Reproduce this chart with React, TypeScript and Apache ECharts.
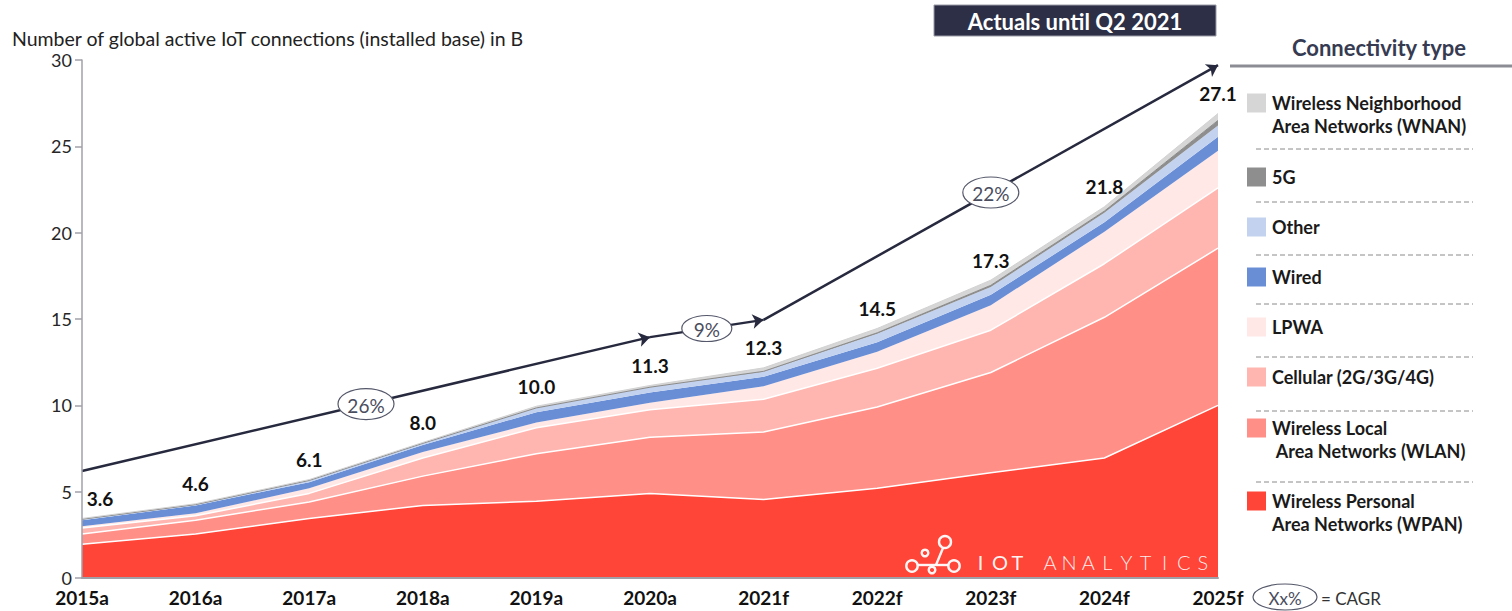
import React, { useEffect, useRef } from 'react';
import * as echarts from 'echarts';

const categories = ['2015a', '2016a', '2017a', '2018a', '2019a', '2020a', '2021f', '2022f', '2023f', '2024f', '2025f'];
const totalLabels = [3.6, 4.6, 6.1, 8.0, 10.0, 11.3, 12.3, 14.5, 17.3, 21.8, 27.1];

const wpan = [1.95, 2.55, 3.45, 4.2, 4.45, 4.9, 4.55, 5.2, 6.1, 6.95, 10.0];
const wlan = [0.6, 0.8, 0.95, 1.7, 2.75, 3.25, 3.9, 4.7, 5.8, 8.15, 9.1];
const cellular = [0.35, 0.25, 0.5, 1.05, 1.5, 1.6, 1.9, 2.25, 2.45, 3.1, 3.5];
const lpwa = [0.1, 0.15, 0.3, 0.35, 0.3, 0.4, 0.75, 0.95, 1.45, 1.85, 2.15];
const wired = [0.35, 0.45, 0.35, 0.4, 0.6, 0.6, 0.55, 0.55, 0.6, 0.55, 0.8];
const other = [0.05, 0.05, 0.1, 0.1, 0.25, 0.3, 0.3, 0.5, 0.45, 0.55, 0.65];
const fiveG = [0, 0, 0, 0, 0, 0, 0.02, 0.05, 0.1, 0.1, 0.3];
const wnan = [0.05, 0.05, 0.05, 0.05, 0.1, 0.1, 0.2, 0.25, 0.3, 0.25, 0.4];

const seriesNames = [
  'Wireless Personal Area Networks (WPAN)',
  'Wireless Local Area Networks (WLAN)',
  'Cellular (2G/3G/4G)',
  'LPWA',
  'Wired',
  'Other',
  '5G',
  'Wireless Neighborhood Area Networks (WNAN)',
];
const seriesColors = ['#ff4538', '#ff8f87', '#ffb6b0', '#ffe8e6', '#6a8ed6', '#c3d3ef', '#8e8e8e', '#d6d6d6'];
const legendLabels = [
  'Wireless Neighborhood\nArea Networks (WNAN)',
  '5G',
  'Other',
  'Wired',
  'LPWA',
  'Cellular (2G/3G/4G)',
  'Wireless Local\n Area Networks (WLAN)',
  'Wireless Personal\nArea Networks (WPAN)',
];

const cagrStartIdx = [0, 5, 6];
const cagrEndIdx = [5, 6, 10];
const cagrStartVal = [6.2, 13.95, 14.95];
const cagrEndVal = [13.95, 14.95, 29.7];
const cagrLabels = ['26%', '9%', '22%'];

const FONT = 'Lato, "Open Sans", "DejaVu Sans", sans-serif';
const DARK = '#272a3e';

export default function App() {
  const ref = useRef<HTMLDivElement>(null);

  useEffect(() => {
    if (!ref.current) return;
    const chart = echarts.init(ref.current, undefined, { renderer: 'svg' });
    const layers = [wpan, wlan, cellular, lpwa, wired, other, fiveG, wnan];
    const lineColors = ['#ffffff', '#ffffff', '#ffffff', '#ffe8e6', '#6a8ed6', '#c3d3ef', '#8a8a8a', '#d2d2d2'];
    const lineWidths = [1.5, 1.5, 1.5, 0, 0, 0, 1, 1];
    const last = layers.length - 1;

    const series: any[] = layers.map((d, i) => ({
      name: seriesNames[i],
      type: 'line',
      stack: 'total',
      data:
        i === last
          ? d.map((v, j) => ({
              value: v,
              label: {
                show: true,
                formatter: totalLabels[j].toFixed(1),
                offset: j === 0 ? [18, 0] : [0, 0],
              },
            }))
          : d,
      showSymbol: i === last,
      symbol: 'circle',
      symbolSize: 1,
      itemStyle: { color: 'rgba(0,0,0,0)' },
      lineStyle: { color: lineColors[i], width: lineWidths[i] },
      areaStyle: { color: seriesColors[i], opacity: 1 },
      label: {
        position: 'top',
        distance: 10,
        fontFamily: FONT,
        fontSize: 19,
        fontWeight: 'bold',
        color: '#111',
      },
      silent: true,
      z: 2,
    }));

    series.push({
      name: 'CAGR',
      type: 'line',
      data: categories.map(() => '-'),
      silent: true,
      z: 5,
      markLine: {
        silent: true,
        symbol: ['none', 'arrow'],
        symbolSize: 11,
        lineStyle: { color: DARK, width: 2.5, type: 'solid' },
        label: { show: false },
        data: cagrStartIdx.map((s, k) => [
          { coord: [categories[s], cagrStartVal[k]] },
          { coord: [categories[cagrEndIdx[k]], cagrEndVal[k]] },
        ]),
      },
    });

    const option: any = {
      animation: false,
      grid: { left: 82, right: 294, top: 60, bottom: 33, containLabel: false },
      xAxis: {
        type: 'category',
        data: categories,
        boundaryGap: false,
        axisLine: { lineStyle: { color: '#a0a0a8', width: 2 } },
        axisTick: { show: false },
        axisLabel: { fontFamily: FONT, fontSize: 19, fontWeight: 'bold', color: '#111', margin: 10 },
        splitLine: { show: false },
        z: 10,
      },
      yAxis: {
        type: 'value',
        min: 0,
        max: 30,
        interval: 5,
        axisLine: { show: true, lineStyle: { color: '#a0a0a8', width: 1.5 } },
        axisTick: { show: true, length: 7, lineStyle: { color: '#a0a0a8', width: 1.5 } },
        axisLabel: { fontFamily: FONT, fontSize: 18, color: '#262626', margin: 10 },
        splitLine: { show: false },
        z: 10,
      },
      series,
    };
    chart.setOption(option);

    const centerText = (text: string, x: number, y: number, extra: any) => ({
      type: 'text',
      style: {
        text,
        x,
        y,
        fontFamily: FONT,
        textAlign: 'center',
        textVerticalAlign: 'middle',
        align: 'center',
        verticalAlign: 'middle',
        ...extra,
      },
    });

    const graphics: any[] = [];
    // y axis title
    graphics.push({
      type: 'text',
      style: {
        text: 'Number of global active IoT connections (installed base) in B',
        x: 12,
        y: 38,
        fill: '#222',
        fontFamily: FONT,
        fontSize: 19.5,
        textAlign: 'left',
        textVerticalAlign: 'middle',
        align: 'left',
        verticalAlign: 'middle',
      },
    });
    // Actuals box
    graphics.push({
      type: 'rect',
      shape: { x: 934, y: 5, width: 282, height: 31 },
      style: { fill: '#2c2f45', stroke: '#9a9ca8', lineWidth: 1 },
    });
    graphics.push(centerText('Actuals until Q2 2021', 1075, 21, { fill: '#fff', fontSize: 22, fontWeight: 'bold' }));

    // CAGR ellipses at segment midpoints
    cagrStartIdx.forEach((s, k) => {
      const p1 = chart.convertToPixel({ xAxisIndex: 0, yAxisIndex: 0 }, [categories[s], cagrStartVal[k]]) as number[];
      const p2 = chart.convertToPixel({ xAxisIndex: 0, yAxisIndex: 0 }, [categories[cagrEndIdx[k]], cagrEndVal[k]]) as number[];
      const cx = (p1[0] + p2[0]) / 2;
      const cy = (p1[1] + p2[1]) / 2;
      const wide = cagrLabels[k].length > 2;
      graphics.push({
        type: 'ellipse',
        z: 20,
        shape: { cx, cy, rx: wide ? 28 : 25, ry: wide ? 15.5 : 13 },
        style: { fill: '#fff', stroke: '#55586a', lineWidth: 1.2 },
      });
      const t = centerText(cagrLabels[k], cx, cy + 1, { fill: '#4a4d5e', fontSize: 19 });
      (t as any).z = 21;
      graphics.push(t);
    });

    // Legend
    graphics.push(centerText('Connectivity type', 1379, 47, { fill: '#363b52', fontSize: 22, fontWeight: 'bold' }));
    graphics.push({
      type: 'line',
      shape: { x1: 1230, y1: 66, x2: 1512, y2: 66 },
      style: { stroke: '#8c8d94', lineWidth: 3 },
    });
    const legendColorOrder = [7, 6, 5, 4, 3, 2, 1, 0];
    const itemTextY = [103, 177, 227, 277, 327, 377, 428, 501];
    const dashY = [149, 202, 255, 304, 357, 411, 482];
    legendLabels.forEach((lab, k) => {
      const ty = itemTextY[k];
      graphics.push({
        type: 'rect',
        shape: { x: 1247, y: ty - 9.5, width: 19, height: 19 },
        style: { fill: seriesColors[legendColorOrder[k]] },
      });
      graphics.push({
        type: 'text',
        style: {
          text: lab,
          x: 1272,
          y: ty - 11.5,
          fill: '#1a1a1a',
          fontFamily: FONT,
          fontSize: 18,
          fontWeight: 'bold',
          lineHeight: 23,
          textAlign: 'left',
          textVerticalAlign: 'top',
          align: 'left',
          verticalAlign: 'top',
        },
      });
    });
    dashY.forEach((y) => {
      graphics.push({
        type: 'line',
        shape: { x1: 1256, y1: y, x2: 1473, y2: y },
        style: { stroke: '#8a8a8a', lineWidth: 1, lineDash: [5, 3] },
      });
    });
    // CAGR key
    graphics.push({
      type: 'ellipse',
      shape: { cx: 1285, cy: 597, rx: 32, ry: 13 },
      style: { fill: '#fff', stroke: '#55586a', lineWidth: 1.2 },
    });
    graphics.push(centerText('Xx%', 1285, 598, { fill: '#4a4d5e', fontSize: 17 }));
    graphics.push({
      type: 'text',
      style: {
        text: '= CAGR',
        x: 1321,
        y: 598,
        fill: '#333',
        fontFamily: FONT,
        fontSize: 17,
        textAlign: 'left',
        textVerticalAlign: 'middle',
        align: 'left',
        verticalAlign: 'middle',
      },
    });

    // IoT Analytics logo
    const logoStroke = { stroke: 'rgba(255,255,255,0.95)', lineWidth: 2.4 };
    const circles = [
      [945, 542, 6],
      [925, 553, 3.3],
      [912, 566, 5.7],
      [932, 570, 3.3],
      [954, 566, 5.7],
    ];
    const lines = [
      [918, 565, 948, 565],
      [936, 565, 943, 548],
    ];
    lines.forEach((l) =>
      graphics.push({ type: 'line', z: 15, shape: { x1: l[0], y1: l[1], x2: l[2], y2: l[3] }, style: { ...logoStroke } })
    );
    circles.forEach((c) =>
      graphics.push({ type: 'circle', z: 15, shape: { cx: c[0], cy: c[1], r: c[2] }, style: { ...logoStroke, fill: '#ff4538' } })
    );
    const iot = ['I', 'O', 'T'];
    const iotX = [980.5, 1000, 1017.5];
    iot.forEach((ch, k) => {
      const t: any = centerText(ch, iotX[k], 562, { fill: 'rgba(255,255,255,0.95)', fontSize: 20 });
      t.z = 15;
      graphics.push(t);
    });
    'ANALYTICS'.split('').forEach((ch, k) => {
      const t: any = centerText(ch, 1050 + k * 19.1, 562, { fill: 'rgba(255,255,255,0.92)', fontSize: 20, fontWeight: 300 });
      t.z = 15;
      graphics.push(t);
    });

    chart.setOption({ graphic: graphics });

    return () => chart.dispose();
  }, []);

  return (
    <div
      ref={ref}
      style={{ position: 'fixed', left: 0, top: 0, width: 1512, height: 611, background: '#fff' }}
    />
  );
}
